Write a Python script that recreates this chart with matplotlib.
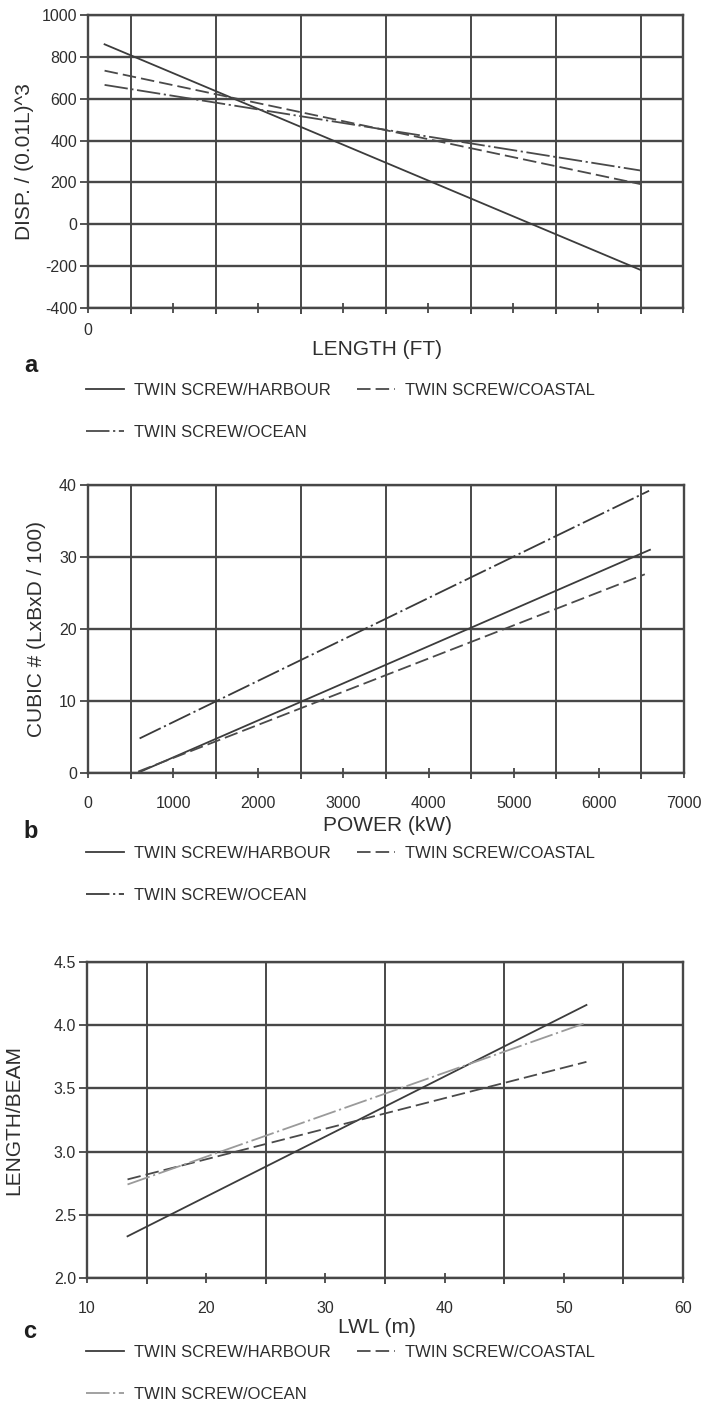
import matplotlib
matplotlib.use("Agg")
import matplotlib.pyplot as plt
import numpy as np

plt.rcParams['font.family'] = ['Liberation Sans', 'DejaVu Sans']

# ---------------- data ----------------
series_labels = ["TWIN SCREW/HARBOUR", "TWIN SCREW/COASTAL", "TWIN SCREW/OCEAN"]

# panel a : DISP/(0.01L)^3 vs LENGTH (FT)
a_x = [3.9, 130]
a_harbour = [860, -218]
a_coastal = [734, 192]
a_ocean = [666, 257]
a_xticks = [0, 20, 40, 60, 80, 100, 120, 140]
a_xticklabels = ["0", "", "", "", "", "", "", ""]
a_xgrid = [10, 30, 50, 70, 90, 110, 130]
a_yticks = [-400, -200, 0, 200, 400, 600, 800, 1000]

# panel b : CUBIC # vs POWER (kW)
b_x_harbour = [580, 6600]
b_harbour = [0.0, 31.0]
b_x_coastal = [590, 6540]
b_coastal = [0.2, 27.6]
b_x_ocean = [606, 6590]
b_ocean = [4.8, 39.2]
b_xticks = [0, 1000, 2000, 3000, 4000, 5000, 6000, 7000]
b_xgrid = [500, 1500, 2500, 3500, 4500, 5500, 6500]
b_yticks = [0, 10, 20, 30, 40]

# panel c : LENGTH/BEAM vs LWL (m)
c_x = [13.4, 51.9]
c_harbour = [2.33, 4.16]
c_coastal = [2.78, 3.71]
c_ocean = [2.74, 4.02]
c_xticks = [10, 20, 30, 40, 50, 60]
c_xgrid = [15, 25, 35, 45, 55]
c_yticks = [2.0, 2.5, 3.0, 3.5, 4.0, 4.5]

# ---------------- style ----------------
W, H = 706, 1404
fig = plt.figure(figsize=(W / 100, H / 100), dpi=100)

def fx(px):
    return px / W

def fy(py):
    return 1 - py / H

GRID = '#474747'
LINE = '#3c3c3c'
TXT = '#2e2e2e'
DASH_COASTAL = (0, (7.5, 2.8))
DASH_OCEAN = (0, (13, 2, 1.2, 2))
TICK_FS = 11.5
LABEL_FS = 15
LEG_FS = 12

def make_axes(left, right, top, bottom):
    return fig.add_axes([fx(left), fy(bottom), fx(right - left), (bottom - top) / H])

def style_axes(ax, xticks, xlabels, xgrid, yticks, ylabels, xlim, ylim, xpad):
    ax.set_xlim(*xlim)
    ax.set_ylim(*ylim)
    ax.set_xticks(xticks)
    ax.set_xticklabels(xlabels)
    ax.set_xticks(xgrid, minor=True)
    ax.set_yticks(yticks)
    ax.set_yticklabels(ylabels)
    ax.grid(axis='x', which='minor', color=GRID, lw=1.4)
    ax.grid(axis='y', which='major', color=GRID, lw=1.7)
    ax.tick_params(axis='x', which='major', direction='inout', length=7.5, width=1.3,
                   color=GRID, labelsize=TICK_FS, pad=xpad, labelcolor=TXT)
    ax.tick_params(axis='x', which='minor', direction='out', length=4.5, width=1.4,
                   color=GRID)
    ax.tick_params(axis='y', which='major', direction='out', length=6, width=1.3,
                   color=GRID, labelsize=TICK_FS, pad=2, labelcolor=TXT)
    for s in ax.spines.values():
        s.set_color(GRID)
        s.set_linewidth(1.7)
    ax.set_axisbelow(True)

def add_legend(ax, handles, top_px):
    # order so that column 1 = harbour, ocean ; column 2 = coastal
    h = [handles[0], handles[2], handles[1]]
    l = [series_labels[0], series_labels[2], series_labels[1]]
    ax.legend(h, l, loc='upper left', bbox_to_anchor=(fx(86), fy(top_px)),
              bbox_transform=fig.transFigure, ncol=2, frameon=False,
              borderpad=0, borderaxespad=0, handlelength=2.3, handletextpad=0.6,
              columnspacing=1.55, labelspacing=1.6, fontsize=LEG_FS,
              labelcolor=TXT)

def set_labels(ax, xlabel, ylabel, xl_pos, yl_pos):
    ax.set_xlabel(xlabel, fontsize=LABEL_FS, color=TXT)
    ax.xaxis.label.set_va('center')
    ax.xaxis.set_label_coords(*xl_pos)
    ax.set_ylabel(ylabel, fontsize=LABEL_FS, color=TXT)
    ax.yaxis.label.set_va('center')
    ax.yaxis.set_label_coords(*yl_pos)

def panel_letter(letter, x_px, y_px):
    fig.text(fx(x_px), fy(y_px), letter, fontsize=17, fontweight='bold',
             ha='center', va='center', color='#1e1e1e')

# ---------------- panel a ----------------
axa = make_axes(88, 683, 15, 308)
ha, = axa.plot(a_x, a_harbour, color=LINE, lw=1.3, ls='-')
hc, = axa.plot(a_x, a_coastal, color='#4a4a4a', lw=1.3, ls=DASH_COASTAL)
ho, = axa.plot(a_x, a_ocean, color='#4a4a4a', lw=1.3, ls=DASH_OCEAN)
style_axes(axa, a_xticks, a_xticklabels, a_xgrid, a_yticks,
           [str(v) for v in a_yticks], (0, 140), (-400, 1000), xpad=7)
set_labels(axa, "LENGTH (FT)", "DISP. / (0.01L)^3", (0.486, -0.143), (-0.106, 0.5))
panel_letter("a", 31, 365)
add_legend(axa, [ha, hc, ho], 383)

# ---------------- panel b ----------------
axb = make_axes(88, 684, 485, 773)
hb1, = axb.plot(b_x_harbour, b_harbour, color=LINE, lw=1.3, ls='-')
hb2, = axb.plot(b_x_coastal, b_coastal, color='#4a4a4a', lw=1.3, ls=DASH_COASTAL)
hb3, = axb.plot(b_x_ocean, b_ocean, color='#3a3a3a', lw=1.3, ls=DASH_OCEAN)
style_axes(axb, b_xticks, [str(v) for v in b_xticks], b_xgrid, b_yticks,
           [str(v) for v in b_yticks], (0, 7000), (0, 40), xpad=13)
set_labels(axb, "POWER (kW)", "CUBIC # (LxBxD / 100)", (0.502, -0.181), (-0.087, 0.5))
panel_letter("b", 31, 832)
add_legend(axb, [hb1, hb2, hb3], 846)

# ---------------- panel c ----------------
axc = make_axes(87, 683, 962, 1278)
hc1, = axc.plot(c_x, c_harbour, color=LINE, lw=1.3, ls='-')
hc2, = axc.plot(c_x, c_coastal, color='#4a4a4a', lw=1.3, ls=DASH_COASTAL)
hc3, = axc.plot(c_x, c_ocean, color='#9a9a9a', lw=1.3, ls=DASH_OCEAN)
style_axes(axc, c_xticks, [str(v) for v in c_xticks], c_xgrid, c_yticks,
           ["%.1f" % v for v in c_yticks], (10, 60), (2.0, 4.5), xpad=13)
set_labels(axc, "LWL (m)", "LENGTH/BEAM", (0.487, -0.158), (-0.1225, 0.5))
panel_letter("c", 30, 1331)
add_legend(axc, [hc1, hc2, hc3], 1345)

fig.savefig("out.png", dpi=100)
